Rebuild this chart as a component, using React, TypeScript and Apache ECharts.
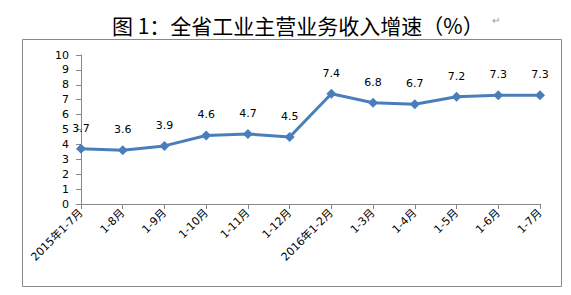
import React, { useEffect, useRef } from "react";
import * as echarts from "echarts";

const categories = [
  "2015年1-7月", "1-8月", "1-9月", "1-10月", "1-11月", "1-12月",
  "2016年1-2月", "1-3月", "1-4月", "1-5月", "1-6月", "1-7月",
];
const values = [3.7, 3.6, 3.9, 4.6, 4.7, 4.5, 7.4, 6.8, 6.7, 7.2, 7.3, 7.3];
const titleText = "图 1：全省工业主营业务收入增速（%）";

export default function App() {
  const ref = useRef<HTMLDivElement>(null);
  useEffect(() => {
    const chart = echarts.init(ref.current!, null, { renderer: "svg" });
    const font = "'DejaVu Sans', 'Noto Sans CJK SC', sans-serif";
    chart.setOption({
      animation: false,
      backgroundColor: "#fff",
      title: {
        text: titleText,
        left: 107,
        top: 9,
        textStyle: {
          fontFamily: "'Noto Sans CJK SC', sans-serif",
          fontSize: 21,
          fontWeight: "normal",
          color: "#000",
        },
      },
      graphic: [
        {
          type: "rect",
          shape: { x: 22.5, y: 39.5, width: 539, height: 247 },
          style: { fill: "none", stroke: "#888", lineWidth: 1 },
          silent: true,
        },
        {
          type: "text",
          left: 492,
          top: 15,
          style: { text: "↵", fontSize: 10, fill: "#999" },
        },
      ],
      grid: { left: 81, right: 31, top: 55, bottom: 91, containLabel: false },
      xAxis: {
        type: "category",
        data: categories,
        boundaryGap: false,
        axisLine: { lineStyle: { color: "#888", width: 1 } },
        axisTick: { show: true, alignWithLabel: true, length: 5, lineStyle: { color: "#888" } },
        axisLabel: {
          rotate: 45,
          interval: 0,
          fontSize: 11,
          color: "#000",
          fontFamily: font,
          margin: 7,
        },
      },
      yAxis: {
        type: "value",
        min: 0,
        max: 10,
        interval: 1,
        axisLine: { show: true, lineStyle: { color: "#888" } },
        axisTick: { show: true, length: 5, lineStyle: { color: "#888" } },
        splitLine: { show: false },
        axisLabel: { fontSize: 11, color: "#000", fontFamily: font, margin: 12 },
      },
      series: [
        {
          type: "line",
          data: values,
          symbol: "diamond",
          symbolSize: 10,
          lineStyle: { color: "#4A7EBB", width: 3 },
          itemStyle: { color: "#4A7EBB" },
          label: {
            show: true,
            position: "top",
            distance: 10,
            fontSize: 11,
            color: "#000",
            fontFamily: font,
          },
        },
      ],
    });
    return () => chart.dispose();
  }, []);
  return (
    <div
      ref={ref}
      style={{ position: "fixed", left: 0, top: 0, width: 571, height: 295 }}
    />
  );
}
